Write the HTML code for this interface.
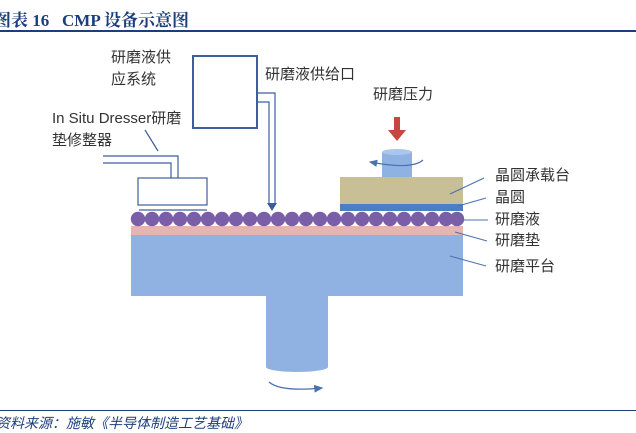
<!DOCTYPE html>
<html><head><meta charset="utf-8"><style>
body{margin:0;width:636px;height:431px;background:#fff;overflow:hidden;position:relative;font-family:"Liberation Sans","Noto Sans CJK SC",sans-serif}
.t{position:absolute;white-space:nowrap;color:#333;font-size:15px;line-height:18px}
</style></head><body>
<div style="position:absolute;left:-6px;top:6px;font:bold 17px 'Liberation Serif','Noto Serif CJK SC',serif;color:#1c3f7c;white-space:nowrap">图表 16&nbsp;&nbsp; CMP 设备示意图</div>
<div style="position:absolute;left:0;top:30px;width:636px;height:2px;background:#1c3f7c"></div>
<div style="position:absolute;left:0;top:410px;width:636px;height:1px;background:#1c3f7c"></div>
<div style="position:absolute;left:-4px;top:413px;font:italic 14px 'Liberation Serif','Noto Sans CJK SC',serif;color:#1c3f7c;white-space:nowrap">资料来源：施敏《半导体制造工艺基础》</div>
<svg width="636" height="431" style="position:absolute;left:0;top:0">
<defs><marker id="a" markerWidth="8" markerHeight="8" refX="6" refY="4" orient="auto"><path d="M0,1 L7,4 L0,7z" fill="#4a72b0"/></marker></defs>
<g fill="none" stroke="#3d5da0" stroke-width="1.2">
<rect x="193" y="56" width="64" height="72" stroke-width="2"/>
<polyline points="257,93 275,93 275,203"/>
<polyline points="257,102 269,102 269,203"/>
<rect x="138" y="178" width="69" height="27"/>
<line x1="139" y1="210" x2="207" y2="210"/>
<polyline points="103,156 178,156 178,178"/>
<polyline points="103,163 171,163 171,178"/>
<line x1="145" y1="130" x2="158" y2="151"/>
</g>
<path d="M267,203 L277,203 L272,211z" fill="#3d5da0"/>
<rect x="131" y="226" width="332" height="9" fill="#e8b4b1"/>
<rect x="131" y="235" width="332" height="61" fill="#8fb2e2"/>
<rect x="266" y="295" width="62" height="72" fill="#8fb2e2"/>
<ellipse cx="297" cy="367" rx="31" ry="5" fill="#8fb2e2"/>
<path d="M269,382 Q280,392 322,388" fill="none" stroke="#4a72b0" stroke-width="1.3" marker-end="url(#a)"/>
<g fill="#7b5ea8">
<circle cx="138" cy="219" r="7.2"/><circle cx="152" cy="219" r="7.2"/><circle cx="166" cy="219" r="7.2"/><circle cx="180" cy="219" r="7.2"/><circle cx="194" cy="219" r="7.2"/><circle cx="208" cy="219" r="7.2"/><circle cx="222" cy="219" r="7.2"/><circle cx="236" cy="219" r="7.2"/><circle cx="250" cy="219" r="7.2"/><circle cx="264" cy="219" r="7.2"/><circle cx="278" cy="219" r="7.2"/><circle cx="292" cy="219" r="7.2"/><circle cx="306" cy="219" r="7.2"/><circle cx="320" cy="219" r="7.2"/><circle cx="334" cy="219" r="7.2"/><circle cx="348" cy="219" r="7.2"/><circle cx="362" cy="219" r="7.2"/><circle cx="376" cy="219" r="7.2"/><circle cx="390" cy="219" r="7.2"/><circle cx="404" cy="219" r="7.2"/><circle cx="418" cy="219" r="7.2"/><circle cx="432" cy="219" r="7.2"/><circle cx="446" cy="219" r="7.2"/><circle cx="457" cy="219" r="7.2"/>
</g>
<rect x="340" y="177" width="123" height="27" fill="#c8bf97"/>
<rect x="340" y="204" width="123" height="7" fill="#4d7ec3"/>
<rect x="382" y="152" width="30" height="25" fill="#8fb2e2"/>
<ellipse cx="397" cy="152" rx="15" ry="3" fill="#a9c6ec"/>
<path d="M423,160 Q412,170 370,162" fill="none" stroke="#4a72b0" stroke-width="1.2" marker-end="url(#a)"/>
<rect x="394" y="117" width="6" height="14" fill="#c9463f"/>
<path d="M388,130 L406,130 L397,141z" fill="#c9463f"/>
<g stroke="#4a72b0" stroke-width="1">
<line x1="450" y1="194" x2="484" y2="178"/>
<line x1="458" y1="206" x2="486" y2="198"/>
<line x1="462" y1="220" x2="488" y2="220"/>
<line x1="455" y1="232" x2="487" y2="241"/>
<line x1="450" y1="256" x2="486" y2="266"/>
</g>
</svg>
<div class="t" style="left:111px;top:47px;line-height:22px">研磨液供<br>应系统</div>
<div class="t" style="left:265px;top:66px">研磨液供给口</div>
<div class="t" style="left:52px;top:108px;line-height:22px">In Situ Dresser研磨<br>垫修整器</div>
<div class="t" style="left:373px;top:86px">研磨压力</div>
<div class="t" style="left:495px;top:167px">晶圆承载台</div>
<div class="t" style="left:495px;top:189px">晶圆</div>
<div class="t" style="left:495px;top:211px">研磨液</div>
<div class="t" style="left:495px;top:232px">研磨垫</div>
<div class="t" style="left:495px;top:258px">研磨平台</div>
</body></html>
